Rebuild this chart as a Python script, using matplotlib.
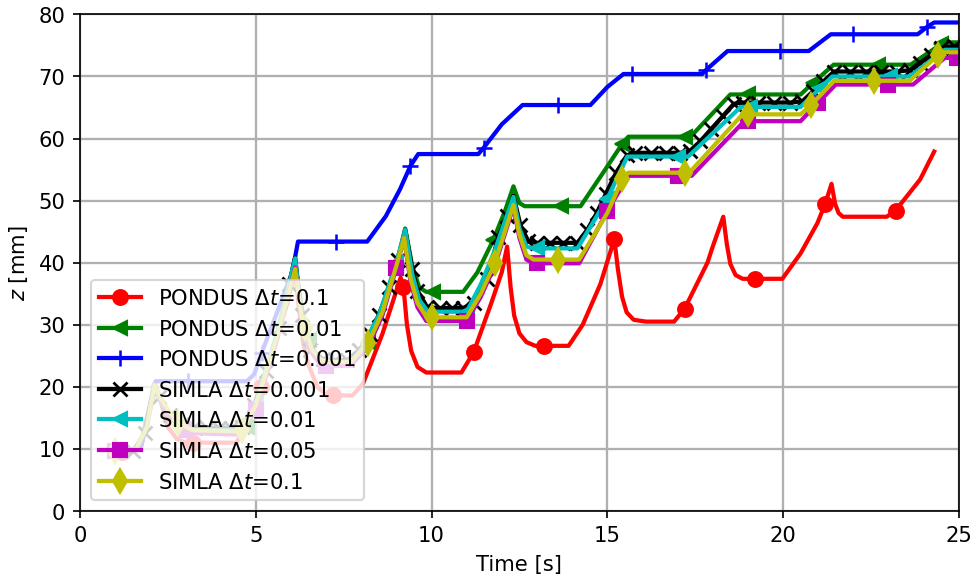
import matplotlib
matplotlib.use("Agg")
import matplotlib.pyplot as plt

# PONDUS, dt = 0.1
red_t = [1.2, 1.7, 2.15, 2.3, 2.5, 2.75, 3.0, 3.2, 4.45, 4.7, 5.15, 5.6, 5.9, 6.12, 6.22, 6.35, 6.5,
         6.75, 7.0, 7.2, 7.75, 8.05, 8.6, 9.12, 9.2, 9.3, 9.42, 9.6, 9.85, 10.85, 11.2, 11.7, 12.0,
         12.15, 12.25, 12.35, 12.5, 12.7, 12.95, 13.2, 13.9, 14.3, 14.8, 15.2, 15.3, 15.42, 15.55,
         15.75, 16.1, 16.9, 17.2, 17.85, 18.0, 18.3, 18.4, 18.5, 18.65, 18.85, 19.2, 19.98, 20.5,
         20.98, 21.2, 21.38, 21.48, 21.58, 21.7, 22.95, 23.2, 23.9, 24.3]
red_z = [9.5, 10.0, 19.8, 17.5, 13.5, 11.6, 11.0, 11.0, 11.0, 13.5, 20.0, 28.0, 33.5, 38.9, 33.0, 27.0, 23.5,
         20.0, 18.7, 18.6, 18.6, 20.5, 28.5, 37.6, 36.1, 30.0, 25.8, 23.2, 22.3, 22.3, 25.6, 33.5, 38.5,
         42.6, 36.0, 31.5, 28.6, 27.2, 26.6, 26.6, 26.6, 30.0, 36.5, 43.8, 39.0, 34.5, 32.0,
         30.8, 30.5, 30.5, 32.6, 40.0, 42.6, 47.4, 43.0, 39.8, 38.0, 37.4, 37.4, 37.4, 41.5,
         46.4, 49.5, 52.7, 49.5, 48.0, 47.4, 47.4, 48.4, 53.4, 57.9]
red_mark = [1.2, 3.2, 5.15, 7.2, 9.2, 11.2, 13.2, 15.2, 17.2, 19.2, 21.2, 23.2]

# PONDUS, dt = 0.01
green_t = [1.3, 1.7, 2.12, 2.35, 2.6, 2.9, 3.2, 4.5, 4.75, 5.2, 5.7, 6.1, 6.3, 6.5, 6.75, 7.0,
           7.7, 8.2, 8.7, 9.1, 9.25, 9.45, 9.65, 9.85, 10.05, 10.9, 11.3, 11.76, 12.1, 12.33,
           12.5, 12.65, 13.67, 14.24, 15.0, 15.43, 15.6, 17.2, 17.37, 18.5, 19.0, 20.5, 20.84,
           21.44, 22.7, 23.63, 24.5, 24.6, 25.0]
green_z = [9.6, 10.0, 20.5, 17.0, 14.5, 13.2, 12.9, 12.9, 13.5, 20.5, 30.0, 40.5, 33.0, 27.5, 24.8, 24.2,
           24.2, 27.2, 34.5, 42.0, 45.5, 39.5, 36.0, 35.3, 35.3, 35.3, 38.4, 43.7, 48.5, 52.3,
           49.6, 49.1, 49.1, 49.1, 55.5, 59.2, 60.3, 60.3, 60.3, 67.1, 67.1, 67.1, 68.9,
           71.9, 71.9, 71.9, 75.2, 75.5, 75.5]
green_mark = [2.9, 4.75, 6.5, 8.2, 10.05, 11.76, 13.67, 15.43, 17.2, 19.0, 20.84, 22.7, 24.5]

# PONDUS, dt = 0.001
blue_t = [1.4, 1.75, 2.15, 3.07, 4.75, 4.95, 5.17, 6.04, 6.2, 7.29, 8.17, 8.7, 9.1, 9.4, 9.62,
          11.33, 11.48, 12.0, 12.59, 13.6, 14.52, 15.0, 15.46, 15.7, 17.7, 17.8, 18.42, 19.9,
          20.73, 21.36, 22.0, 23.83, 24.1, 24.3, 25.0]
blue_z = [9.6, 10.5, 20.9, 20.9, 20.9, 22.0, 25.5, 38.5, 43.4, 43.4, 43.4, 47.5, 51.8, 55.6, 57.5,
          57.5, 58.5, 62.3, 65.4, 65.4, 65.4, 68.3, 70.4, 70.4, 70.4, 71.0, 74.1, 74.1,
          74.1, 76.8, 76.8, 76.8, 78.0, 78.7, 78.7]
blue_mark = [3.07, 5.17, 7.29, 9.4, 11.48, 13.6, 15.7, 17.8, 19.9, 22.0, 24.1]

# SIMLA, dt = 0.001 (every point but the start, the peaks and the end carries a marker)
black_t = [1.0, 1.5, 1.85, 2.1, 2.25, 2.56, 2.9, 3.25, 3.6, 3.95, 4.3, 4.6, 4.95, 5.3, 5.65, 5.95,
           6.12, 6.3, 6.55, 6.9, 7.25, 7.6, 7.95, 8.25, 8.5, 8.8, 9.05, 9.25, 9.45, 9.6, 9.88,
           10.25, 10.59, 10.9, 11.2, 11.58, 11.9, 12.15, 12.33, 12.53, 12.75, 13.0, 13.38, 13.75,
           14.15, 14.43, 14.7, 14.95, 15.25, 15.56, 15.8, 16.23, 16.66, 17.08, 17.35, 17.65,
           17.95, 18.3, 18.6, 18.85, 19.3, 19.75, 20.2, 20.55, 20.85, 21.15, 21.45, 21.9, 22.35,
           22.8, 23.25, 23.6, 23.9, 24.2, 24.5, 24.85, 25.0]
black_z = [9.6, 9.6, 12.5, 20.3, 18.3, 15.5, 14.0, 13.5, 13.4, 13.4, 13.4, 13.6, 17.0, 22.5, 29.5, 36.5,
           40.8, 31.5, 26.0, 24.5, 24.3, 24.3, 26.0, 28.5, 31.6, 36.0, 40.5, 45.3, 39.0, 35.5, 32.8,
           32.7, 32.7, 32.7, 33.5, 37.3, 44.2, 47.5, 50.8, 46.0, 43.5, 43.2, 43.2, 43.2,
           43.2, 45.3, 48.0, 51.0, 54.5, 57.3, 57.7, 57.7, 57.7, 57.7, 58.0, 59.6,
           61.5, 63.7, 65.6, 65.8, 65.8, 65.8, 65.8, 66.0, 67.6, 69.2, 70.8, 70.8, 70.8,
           70.8, 70.8, 71.0, 72.2, 73.4, 74.6, 74.9, 74.9]
black_plain = [1.0, 2.1, 6.12, 9.25, 12.33, 25.0]

# SIMLA, dt = 0.01
cyan_t = [1.0, 1.6, 1.9, 2.1, 2.3, 2.55, 2.85, 3.0, 3.3, 4.55, 5.0, 5.6, 6.12, 6.3, 6.5, 6.75, 7.0,
          7.7, 8.0, 8.5, 9.0, 9.25, 9.45, 9.65, 9.9, 11.0, 11.4, 11.8, 12.33, 12.5, 12.7, 12.9,
          13.0, 14.15, 15.0, 15.57, 17.0, 17.3, 18.8, 19.05, 20.5, 21.05, 21.4, 23.05, 23.6,
          24.6, 25.0]
cyan_z = [9.6, 10.0, 13.5, 20.2, 17.6, 15.2, 13.6, 13.3, 13.0, 13.0, 17.3, 28.5, 40.7, 31.2, 26.3, 24.4, 24.0,
          24.0, 26.0, 31.5, 40.0, 45.3, 38.2, 34.0, 32.1, 32.1, 36.5, 42.0, 50.6, 45.5, 42.6, 42.3,
          42.3, 42.3, 50.3, 57.1, 57.1, 57.1, 65.1, 65.1, 65.1, 68.1, 70.0, 70.0, 70.0,
          74.3, 74.3]
cyan_mark = [1.0, 3.0, 5.0, 7.0, 9.0, 11.0, 13.0, 15.0, 17.0, 19.05, 21.05, 23.05]

# SIMLA, dt = 0.05
mag_t = [1.0, 1.6, 1.9, 2.12, 2.3, 2.56, 2.8, 3.0, 3.3, 4.5, 5.0, 5.6, 6.12, 6.3, 6.55, 6.8, 7.0,
         7.7, 8.2, 8.6, 9.0, 9.22, 9.4, 9.6, 9.85, 11.0, 11.4, 11.8, 12.33, 12.5, 12.7, 12.9,
         13.0, 14.2, 15.0, 15.6, 17.0, 17.4, 18.9, 19.0, 20.5, 21.0, 21.5, 23.0, 23.7, 24.6,
         24.95, 25.0]
mag_z = [9.6, 10.0, 13.5, 20.3, 17.8, 15.2, 13.5, 13.0, 12.5, 12.3, 16.3, 27.5, 39.2, 31.0, 25.8, 23.8, 23.4,
         23.4, 26.5, 31.5, 39.2, 44.0, 37.0, 32.8, 30.6, 30.6, 34.5, 39.5, 49.0, 44.0, 40.5, 39.9,
         39.9, 39.9, 48.3, 54.0, 54.0, 54.0, 62.8, 62.8, 62.8, 65.8, 68.7, 68.7, 68.7, 73.0,
         73.0, 73.0]
mag_mark = [1.0, 3.0, 5.0, 7.0, 9.0, 11.0, 13.0, 15.0, 17.0, 19.0, 21.0, 23.0, 24.95]

# SIMLA, dt = 0.1
yel_t = [1.0, 1.6, 1.9, 2.12, 2.3, 2.56, 2.8, 3.2, 4.5, 4.6, 5.0, 5.6, 6.12, 6.3, 6.4, 6.6, 6.85,
         7.1, 7.7, 8.2, 8.6, 9.0, 9.22, 9.4, 9.6, 9.85, 10.0, 11.0, 11.4, 11.8, 12.33, 12.5,
         12.7, 12.9, 13.6, 14.2, 15.0, 15.43, 15.6, 17.2, 17.35, 18.85, 19.0, 20.5, 20.8,
         21.45, 22.6, 23.6, 24.4, 24.5, 25.0]
yel_z = [9.6, 10.0, 13.5, 20.3, 18.0, 15.8, 14.2, 13.0, 12.8, 13.0, 17.0, 28.0, 39.0, 31.5, 29.5, 26.0, 24.3,
         24.0, 24.0, 27.0, 32.0, 39.5, 44.0, 37.5, 33.5, 31.3, 31.2, 31.2, 35.0, 40.0, 49.3, 44.5,
         41.2, 40.5, 40.5, 40.5, 48.0, 53.5, 54.5, 54.5, 54.6, 63.9, 63.9, 63.9, 65.4,
         69.3, 69.3, 69.3, 73.4, 73.9, 73.9]
yel_mark = [1.0, 2.8, 4.6, 6.4, 8.2, 10.0, 11.8, 13.6, 15.43, 17.2, 19.0, 20.8, 22.6, 24.4]


def mark_idx(t, times):
    return [t.index(m) for m in times]


fig, ax = plt.subplots(figsize=(6.4, 3.8), dpi=152)
fig.subplots_adjust(left=0.0823, right=0.9856, bottom=0.1144, top=0.974)

lw = 2.0
ax.plot(red_t, red_z, 'r-o', lw=lw, ms=7, markevery=mark_idx(red_t, red_mark),
        label=r'PONDUS $\Delta t$=0.1')
ax.plot(green_t, green_z, 'g-<', lw=lw, ms=7, markevery=mark_idx(green_t, green_mark),
        label=r'PONDUS $\Delta t$=0.01')
ax.plot(blue_t, blue_z, 'b-+', lw=lw, ms=8, mew=1.2, markevery=mark_idx(blue_t, blue_mark),
        label=r'PONDUS $\Delta t$=0.001')
ax.plot(black_t, black_z, 'k-x', lw=lw, ms=6.5, mew=1.3,
        markevery=[i for i, t in enumerate(black_t) if t not in black_plain],
        label=r'SIMLA $\Delta t$=0.001')
ax.plot(cyan_t, cyan_z, 'c-<', lw=lw, ms=7, markevery=mark_idx(cyan_t, cyan_mark),
        label=r'SIMLA $\Delta t$=0.01')
ax.plot(mag_t, mag_z, 'm-s', lw=lw, ms=7, markevery=mark_idx(mag_t, mag_mark),
        label=r'SIMLA $\Delta t$=0.05')
ax.plot(yel_t, yel_z, 'y-d', lw=lw, ms=8, markevery=mark_idx(yel_t, yel_mark),
        label=r'SIMLA $\Delta t$=0.1')

ax.set_xlim(0, 25)
ax.set_ylim(0, 80)
ax.set_xlabel('Time [s]')
ax.set_ylabel(r'$z$ [mm]')
ax.grid(True, color='#b0b0b0', lw=1.1)
ax.legend(loc='lower left')

fig.savefig('out.png', dpi=152)
